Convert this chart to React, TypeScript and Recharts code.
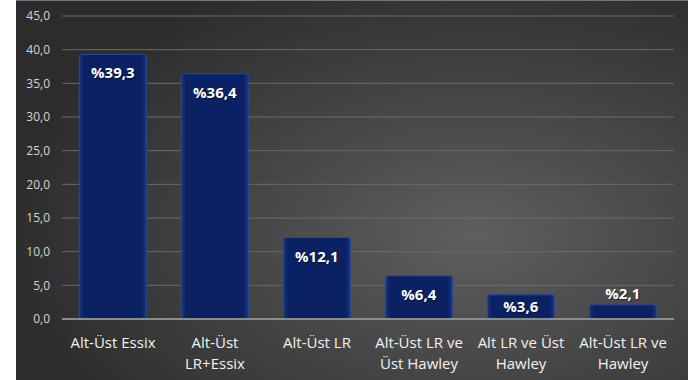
import React from 'react';
import { BarChart, Bar, XAxis, YAxis, CartesianGrid, LabelList } from 'recharts';

const categories = [
  'Alt-Üst Essix',
  'Alt-Üst\nLR+Essix',
  'Alt-Üst LR',
  'Alt-Üst LR ve\nÜst Hawley',
  'Alt LR ve Üst\nHawley',
  'Alt-Üst LR ve\nHawley',
];
const percentages = [39.3, 36.4, 12.1, 6.4, 3.6, 2.1];
const yTicks = [0, 5, 10, 15, 20, 25, 30, 35, 40, 45];

const data = categories.map((name, i) => ({ name, value: percentages[i] }));

const FONT = '"Open Sans", "DejaVu Sans", sans-serif';
const fmt = (v: number) => v.toFixed(1).replace('.', ',');

const CategoryTick = (props: any) => {
  const { x, y, payload } = props;
  const lines = String(payload.value).split('\n');
  return (
    <g transform={`translate(${x},${y})`}>
      {lines.map((line, i) => (
        <text
          key={i}
          x={0}
          y={21 + i * 21}
          textAnchor="middle"
          fill="#f2f2f2"
          fontSize={15}
          fontFamily={FONT}
        >
          {line}
        </text>
      ))}
    </g>
  );
};

// value label sits inside the bar top, or just above it when the bar is too short
const ValueLabel = (props: any) => {
  const { x, y, width, height, value } = props;
  const cx = x + width / 2;
  const inside = height > 20;
  const cy = inside ? y + Math.min(19, height / 2) : y - 11;
  return (
    <text
      x={cx}
      y={cy}
      dy={5}
      textAnchor="middle"
      fill="#ffffff"
      fontSize={15}
      fontWeight="bold"
      fontFamily={FONT}
      style={{ textShadow: '1px 1px 1px rgba(0,0,0,0.5)' }}
    >
      {'%' + fmt(value)}
    </text>
  );
};

export default function App() {
  return (
    <div style={{ position: 'absolute', left: 0, top: 0, width: 696, height: 380, background: '#ffffff' }}>
      <div
        style={{
          position: 'absolute',
          left: 16,
          top: 0,
          width: 672,
          height: 380,
          borderTop: '1px solid #777',
          boxSizing: 'border-box',
          background: 'radial-gradient(ellipse 70% 75% at 68% 62%, #5f5f5f 0%, #4a4a4a 40%, #2c2c2c 100%)',
        }}
      >
        <BarChart
          width={672}
          height={379}
          data={data}
          margin={{ top: 15, right: 14, left: 0, bottom: 0 }}
          barCategoryGap="17%"
        >
          <defs>
            <linearGradient id="barFill" x1="0" y1="0" x2="1" y2="0">
              <stop offset="0%" stopColor="#1a3582" />
              <stop offset="7%" stopColor="#0a2163" />
              <stop offset="93%" stopColor="#0a2163" />
              <stop offset="100%" stopColor="#1a3582" />
            </linearGradient>
          </defs>
          <CartesianGrid vertical={false} stroke="#6a6a6a" strokeWidth={1} />
          <XAxis
            dataKey="name"
            interval={0}
            tick={<CategoryTick />}
            tickLine={false}
            axisLine={{ stroke: '#8c8c8c', strokeWidth: 2 }}
            height={61}
          />
          <YAxis
            domain={[0, 45]}
            ticks={yTicks}
            tickFormatter={fmt}
            width={46}
            tickLine={false}
            tickSize={0}
            tickMargin={12}
            axisLine={false}
            tick={{ fill: '#d4d4d4', fontSize: 12, fontFamily: FONT }}
          />
          <Bar
            dataKey="value"
            fill="url(#barFill)"
            stroke="#2a4896"
            strokeWidth={1}
            radius={[2, 2, 0, 0]}
            isAnimationActive={false}
          >
            <LabelList dataKey="value" content={<ValueLabel />} />
          </Bar>
        </BarChart>
      </div>
    </div>
  );
}
